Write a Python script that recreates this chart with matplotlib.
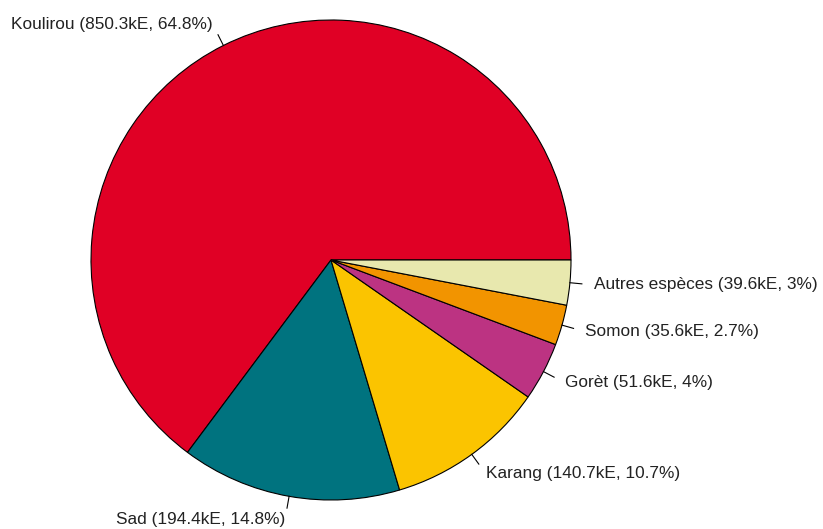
import numpy as np
import matplotlib.pyplot as plt

plt.rcParams['font.family'] = ['Liberation Sans', 'DejaVu Sans']

especes = ['Koulirou', 'Sad', 'Karang', 'Gorèt', 'Somon', 'Autres espèces']
valeurs = [850.3, 194.4, 140.7, 51.6, 35.6, 39.6]
pourcents = ['64.8%', '14.8%', '10.7%', '4%', '2.7%', '3%']
couleurs = ['#E00025', '#00737F', '#FBC400', '#BC3382', '#F29400', '#E8E8AE']

fig = plt.figure(figsize=(8.23, 5.29), dpi=100)
ax = fig.add_axes([0, 0, 1, 1])

cx, cy, r = 331, 269, 240
wedges, _ = ax.pie(valeurs, colors=couleurs, startangle=0, counterclock=True,
                   center=(cx, cy), radius=r, frame=True,
                   wedgeprops=dict(edgecolor='black', linewidth=0.8))
ax.set_xlim(0, 823)
ax.set_ylim(0, 529)
ax.set_aspect('equal')
ax.axis('off')

# etiquettes facon R : trait de 1 a 1.05, texte a 1.1
for w, nom, v, p in zip(wedges, especes, valeurs, pourcents):
    a = np.deg2rad((w.theta1 + w.theta2) / 2)
    c, s = np.cos(a), np.sin(a)
    ax.plot([cx + r * c, cx + 1.05 * r * c], [cy + r * s, cy + 1.05 * r * s],
            color='black', lw=0.8)
    ax.text(cx + 1.1 * r * c, cy + 1.1 * r * s, f'{nom} ({v}kE, {p})',
            ha='left' if c > 0 else 'right', va='center', fontsize=12.4,
            color='#222222')

fig.savefig('out.png', dpi=100)
